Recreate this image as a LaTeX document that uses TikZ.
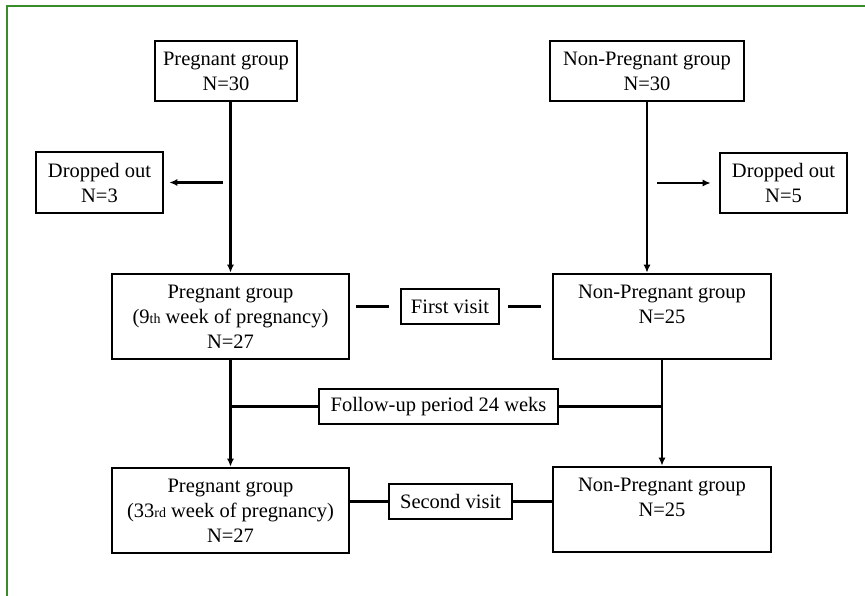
\documentclass[tikz,border=0pt]{standalone}
\usepackage{fontspec}
\setmainfont{Liberation Serif}
\definecolor{frame}{RGB}{58,140,42}
\usetikzlibrary{arrows.meta}
\usetikzlibrary{positioning}
\newcommand*{\sm}[1]{{\fontsize{14}{14}\selectfont #1}}
\tikzstyle{base}=[x=1pt, y=-1pt, line width=2.2pt]
\tikzstyle{box}=[draw, line width=2.6pt, inner sep=0pt, align=center]
\tikzstyle{arr}=[-{Latex[length=8pt,width=7pt]}]

\begin{document}
\begin{tikzpicture}[base]
    \fontsize{20.5}{25}\selectfont
        \path [use as bounding box] (0,0) rectangle (865,596);
        \draw [frame, line width=1.8pt] (865,6) -- (7,6) -- (7,596);
        \node [box, minimum width=142pt, minimum height=60pt] (preg30) at (226,71) {Pregnant group\\N=30};
        \node [box, minimum width=194pt, minimum height=60pt] (npreg30) at (647,71) {Non-Pregnant group\\N=30};
        \node [box, minimum width=127pt, minimum height=61pt] (dropL) at (99.5,182.5) {Dropped out\\N=3};
        \node [box, minimum width=127pt, minimum height=60pt] (dropR) at (783.5,183) {Dropped out\\N=5};
        \node [box, minimum width=237pt, minimum height=85pt] (preg9) at (230.5,316.5) {Pregnant group\\(9\sm{th} week of pregnancy)\\N=27};
        \node [box, minimum width=218pt, minimum height=85pt] (npreg25a) at (662,316.5) {Non-Pregnant group\\N=25\\\mbox{}};
        \node [box, minimum width=98pt, minimum height=35pt] (visit1) at (450,306.5) {First visit};
        \node [box, minimum width=239pt, minimum height=35pt] (follow) at (438.5,406.5) {Follow-up period 24 weks};
        \node [box, minimum width=237pt, minimum height=85pt] (preg33) at (230.5,510.5) {Pregnant group\\(33\sm{rd} week of pregnancy)\\N=27};
        \node [box, minimum width=218pt, minimum height=85pt] (npreg25b) at (662,509.5) {Non-Pregnant group\\N=25\\\mbox{}};
        \node [box, minimum width=123pt, minimum height=35pt] (visit2) at (450.5,501.5) {Second visit};
        \draw [arr] (preg30.south -| preg9.north) -- (preg9.north);
        \draw [arr] (npreg30.south) -- (npreg30.south |- npreg25a.north);
        \draw [arr, shorten <=8pt, shorten >=5pt] (dropL.east -| preg9.north) -- (dropL.east);
        \draw [arr, shorten <=10pt, shorten >=8pt] (dropR.west -| npreg30.south) -- (dropR.west);
        \draw [shorten <=11pt, shorten >=6pt] (visit1.west) -- (visit1.west -| preg9.east);
        \draw [shorten <=8pt, shorten >=11pt] (visit1.east) -- (visit1.east -| npreg25a.west);
        \draw [arr] (preg9.south) -- (preg33.north);
        \draw [arr] (npreg25a.south) -- (npreg25b.north);
        \draw (follow.west) -- (follow.west -| preg9.south);
        \draw (follow.east) -- (follow.east -| npreg25a.south);
        \draw (visit2.west) -- (visit2.west -| preg33.east);
        \draw (visit2.east) -- (visit2.east -| npreg25b.west);
    \end{tikzpicture}
\end{document}
